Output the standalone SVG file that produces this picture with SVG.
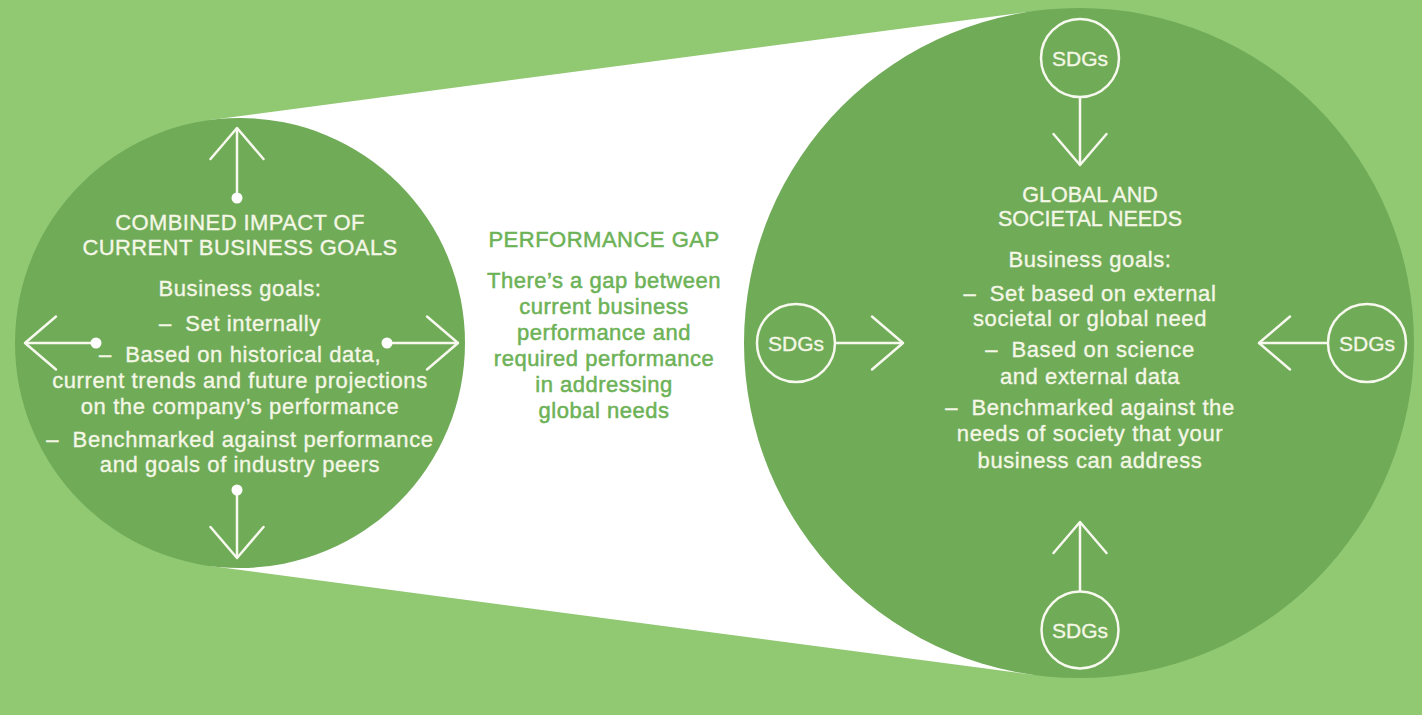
<svg xmlns="http://www.w3.org/2000/svg" width="1422" height="715" viewBox="0 0 1422 715">
  <style>
    .bg { fill: #91c973; }
    .disc { fill: #70ab58; }
    .gap { fill: #ffffff; }
    text { font-family: "Liberation Sans", Arial, Helvetica, sans-serif; text-anchor: middle; stroke-width: 0.35px; }
    .head { font-size: 22px; letter-spacing: 0.4px; fill: #f4f7e6; stroke: #f4f7e6; }
    .headR { font-size: 21.5px; fill: #f4f7e6; stroke: #f4f7e6; }
    .body { font-size: 22px; letter-spacing: 0.6px; fill: #f4f7e6; stroke: #f4f7e6; }
    .mid { font-size: 22px; letter-spacing: 0.5px; fill: #6db257; stroke: #6db257; stroke-width: 0.5px; }
    .sdg-ring { fill: none; stroke: #f7f9ee; stroke-width: 2.5; }
    .sdg-label { font-size: 21px; fill: #f4f7e6; stroke: #f4f7e6; }
    .link { fill: none; stroke: #f7f9ee; stroke-width: 2.5; marker-end: url(#chevron); }
    .link.dot { marker-start: url(#dot); }
  </style>
  <defs>
    <marker id="chevron" viewBox="0 0 34 56" refX="32" refY="28" markerWidth="34" markerHeight="56" markerUnits="userSpaceOnUse" orient="auto" overflow="visible">
      <path d="M1,1.5 L32,28 L1,54.5" fill="none" stroke="#f7f9ee" stroke-width="2.5" stroke-linejoin="round" stroke-linecap="round"/>
    </marker>
    <marker id="dot" viewBox="0 0 12 12" refX="6" refY="6" markerWidth="12" markerHeight="12" markerUnits="userSpaceOnUse" orient="auto">
      <circle cx="6" cy="6" r="5.5" fill="#ffffff"/>
    </marker>
  </defs>

  <!-- page background -->
  <rect class="bg" x="0" y="0" width="1422" height="715"/>

  <!-- widening band between the two discs (outer tangents) -->
  <polygon class="gap" points="210.5,119.9 1035.1,10.9 1035.1,675.1 210.5,566.1"/>

  <!-- current business goals -->
  <g id="current-goals">
    <circle class="disc" cx="240" cy="343" r="225"/>
    <text class="head" x="240" y="230">COMBINED IMPACT OF</text>
    <text class="head" x="240" y="255">CURRENT BUSINESS GOALS</text>
    <text class="body" x="240" y="296">Business goals:</text>
    <text class="body" x="240" y="331">–&#160; Set internally</text>
    <text class="body" x="240" y="362">–&#160; Based on historical data,</text>
    <text class="body" x="240" y="388">current trends and future projections</text>
    <text class="body" x="240" y="414">on the company’s performance</text>
    <text class="body" x="240" y="447">–&#160; Benchmarked against performance</text>
    <text class="body" x="240" y="472">and goals of industry peers</text>
  </g>

  <!-- performance gap -->
  <g id="performance-gap">
    <text class="mid" x="604" y="247">PERFORMANCE GAP</text>
    <text class="mid" x="604" y="288">There’s a gap between</text>
    <text class="mid" x="604" y="314">current business</text>
    <text class="mid" x="604" y="340">performance and</text>
    <text class="mid" x="604" y="366">required performance</text>
    <text class="mid" x="604" y="392">in addressing</text>
    <text class="mid" x="604" y="418">global needs</text>
  </g>

  <!-- global and societal needs -->
  <g id="societal-needs">
    <circle class="disc" cx="1079" cy="343" r="335"/>
    <text class="headR" x="1090" y="202">GLOBAL AND</text>
    <text class="headR" x="1090" y="226">SOCIETAL NEEDS</text>
    <text class="body" x="1090" y="267">Business goals:</text>
    <text class="body" x="1090" y="301">–&#160; Set based on external</text>
    <text class="body" x="1090" y="326">societal or global need</text>
    <text class="body" x="1090" y="357">–&#160; Based on science</text>
    <text class="body" x="1090" y="384">and external data</text>
    <text class="body" x="1090" y="415">–&#160; Benchmarked against the</text>
    <text class="body" x="1090" y="441">needs of society that your</text>
    <text class="body" x="1090" y="468">business can address</text>
  </g>

  <!-- SDG sources -->
  <g id="sdg-top">
    <circle class="sdg-ring" cx="1080" cy="58" r="39"/>
    <text class="sdg-label" x="1080" y="66">SDGs</text>
  </g>
  <g id="sdg-bottom">
    <circle class="sdg-ring" cx="1080" cy="630" r="38.5"/>
    <text class="sdg-label" x="1080" y="638">SDGs</text>
  </g>
  <g id="sdg-left">
    <circle class="sdg-ring" cx="796" cy="343" r="39"/>
    <text class="sdg-label" x="796" y="351">SDGs</text>
  </g>
  <g id="sdg-right">
    <circle class="sdg-ring" cx="1367" cy="343" r="39"/>
    <text class="sdg-label" x="1367" y="351">SDGs</text>
  </g>

  <!-- arrows -->
  <g id="connectors">
    <path class="link dot" d="M237,198 L237,128"/>
    <path class="link dot" d="M237,490 L237,558"/>
    <path class="link dot" d="M96,343 L25,343"/>
    <path class="link dot" d="M387,343 L458,343"/>
    <path class="link" d="M1080,97 L1080,165"/>
    <path class="link" d="M1080,591.5 L1080,522"/>
    <path class="link" d="M835,343 L903,343"/>
    <path class="link" d="M1328,343 L1259,343"/>
  </g>
</svg>
